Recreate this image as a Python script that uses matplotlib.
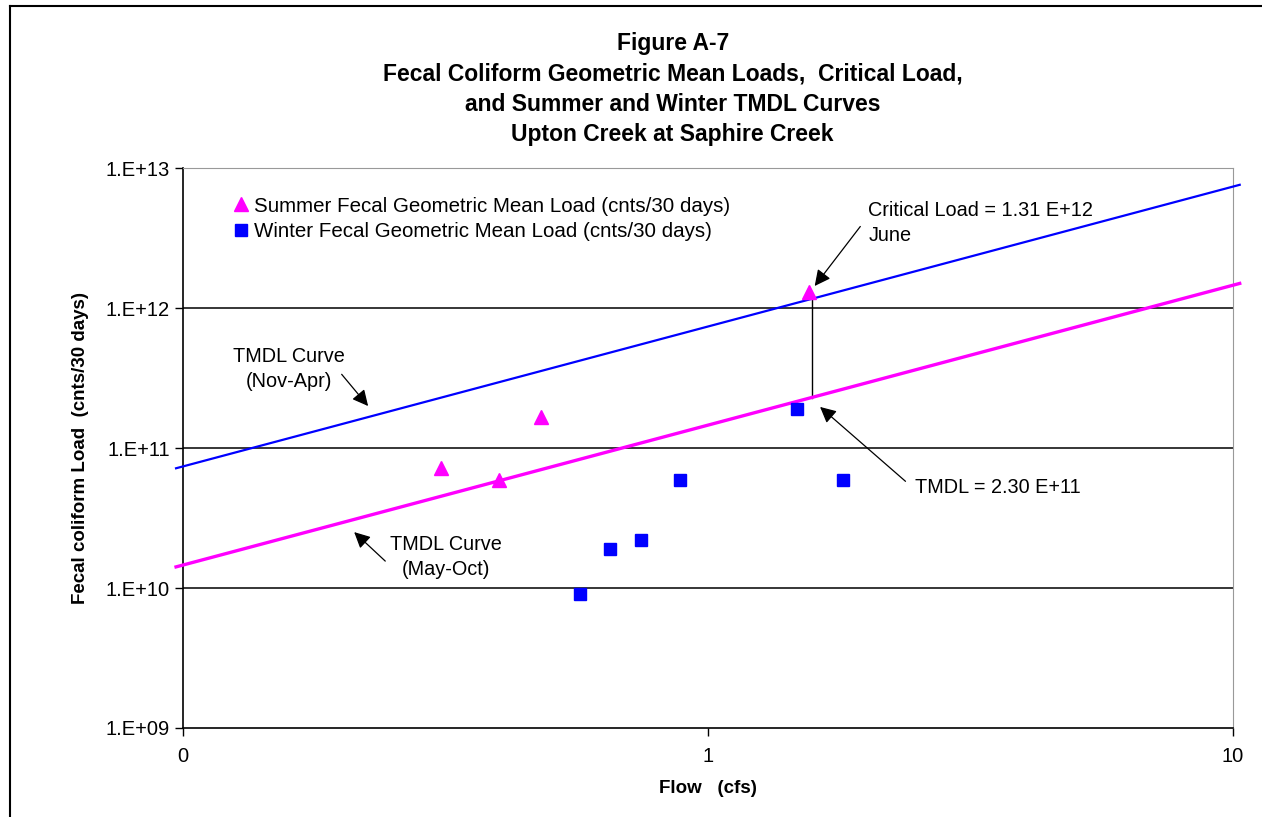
import matplotlib
matplotlib.use("Agg")
import matplotlib.pyplot as plt
import numpy as np
from matplotlib.lines import Line2D

plt.rcParams['font.family'] = ['Liberation Sans', 'DejaVu Sans']

# summer / winter geometric mean loads (flow cfs, load cnts/30 days)
summer_flow = [0.31, 0.40, 0.48, 1.56]
summer_load = [7.2e10, 5.9e10, 1.66e11, 1.31e12]
winter_flow = [0.57, 0.65, 0.745, 0.885, 1.48, 1.81]
winter_load = [9.1e9, 1.9e10, 2.2e10, 5.9e10, 1.9e11, 5.9e10]

# TMDL curves: load = k * flow (drawn slightly past the axis ends, as in the original)
curve_flow = [0.097, 10.3]
winter_k = 7.4e11
summer_k = 1.46e11

critical_flow = 1.575
critical_load = 1.31e12
tmdl_load = 2.30e11

y_ticks = [1e9, 1e10, 1e11, 1e12, 1e13]
y_ticklabels = ['1.E+09', '1.E+10', '1.E+11', '1.E+12', '1.E+13']
x_ticks = [0.1, 1, 10]
x_ticklabels = ['0', '1', '10']

fig = plt.figure(figsize=(12.62, 8.17), dpi=100)
ax = fig.add_axes([0.145, 0.109, 0.832, 0.685])
ax.set_xscale('log'); ax.set_yscale('log')
ax.set_xlim(0.1, 10); ax.set_ylim(1e9, 1e13)

for yv in [1e10, 1e11, 1e12]:
    ax.axhline(yv, color='black', lw=1.1, zorder=1)

cf = np.array(curve_flow)
ax.plot(cf, winter_k * cf, color='#0000FF', lw=1.6, zorder=3, clip_on=False)
ax.plot(cf, summer_k * cf, color='#FF00FF', lw=2.4, zorder=3, clip_on=False)

ax.plot(summer_flow, summer_load, '^', color='#FF00FF', ms=10, mec='#FF00FF', ls='none',
        label='Summer Fecal Geometric Mean Load (cnts/30 days)', zorder=4)
ax.plot(winter_flow, winter_load, 's', color='#0000FF', ms=8.5, mec='#0000FF', ls='none',
        label='Winter Fecal Geometric Mean Load (cnts/30 days)', zorder=4)

# vertical line from critical load down to TMDL
ax.plot([critical_flow, critical_flow], [critical_load * 0.93, tmdl_load], color='black', lw=1.0, zorder=2)

arrow = dict(arrowstyle='-|>', color='black', lw=0.9, mutation_scale=24)
fs = 14.3
ax.text(2.02, 4.05e12, 'Critical Load = 1.31 E+12\nJune', fontsize=fs, ha='left', va='center', linespacing=1.4)
ax.annotate('', xy=(1.585, 1.39e12), xytext=(1.965, 3.98e12), arrowprops=arrow)
ax.text(2.48, 5.26e10, 'TMDL = 2.30 E+11', fontsize=fs, ha='left', va='center')
ax.annotate('', xy=(1.62, 2.03e11), xytext=(2.40, 5.62e10), arrowprops=arrow)
ax.text(0.159, 3.65e11, 'TMDL Curve\n(Nov-Apr)', fontsize=fs, ha='center', va='center', linespacing=1.4)
ax.annotate('', xy=(0.227, 1.93e11), xytext=(0.199, 3.49e11), arrowprops=arrow)
ax.text(0.317, 1.66e10, 'TMDL Curve\n(May-Oct)', fontsize=fs, ha='center', va='center', linespacing=1.4)
ax.annotate('', xy=(0.210, 2.59e10), xytext=(0.245, 1.51e10), arrowprops=arrow)

ax.set_xticks(x_ticks); ax.set_xticklabels(x_ticklabels)
ax.set_yticks(y_ticks); ax.set_yticklabels(y_ticklabels)
ax.minorticks_off()
ax.tick_params(axis='both', direction='out', length=6, width=1, labelsize=14.5, colors='black')
ax.tick_params(axis='x', pad=8)
for s in ['top', 'right']:
    ax.spines[s].set_color('#999999')
for s in ['left', 'bottom']:
    ax.spines[s].set_color('black'); ax.spines[s].set_linewidth(1.2)

ax.set_xlabel('Flow   (cfs)', fontsize=13.5, fontweight='bold', labelpad=10)
ax.set_ylabel('Fecal coliform Load  (cnts/30 days)', fontsize=13.5, fontweight='bold', labelpad=12)

ax.legend(loc='upper left', bbox_to_anchor=(0.034, 0.975), frameon=False, fontsize=14.8,
          handlelength=0.8, handletextpad=0.2, borderaxespad=0.3, labelspacing=0.3)

fig.text(0.533, 0.961, 'Figure A-7\nFecal Coliform Geometric Mean Loads,  Critical Load,\n'
         'and Summer and Winter TMDL Curves\nUpton Creek at Saphire Creek',
         ha='center', va='top', fontsize=16.5, fontweight='bold', linespacing=1.41)

# chart area border
fig.add_artist(Line2D([0.008, 0.008], [0, 0.993], color='black', lw=1.5, transform=fig.transFigure))
fig.add_artist(Line2D([0.008, 1.0], [0.993, 0.993], color='black', lw=1.5, transform=fig.transFigure))

fig.savefig('out.png', dpi=100)
